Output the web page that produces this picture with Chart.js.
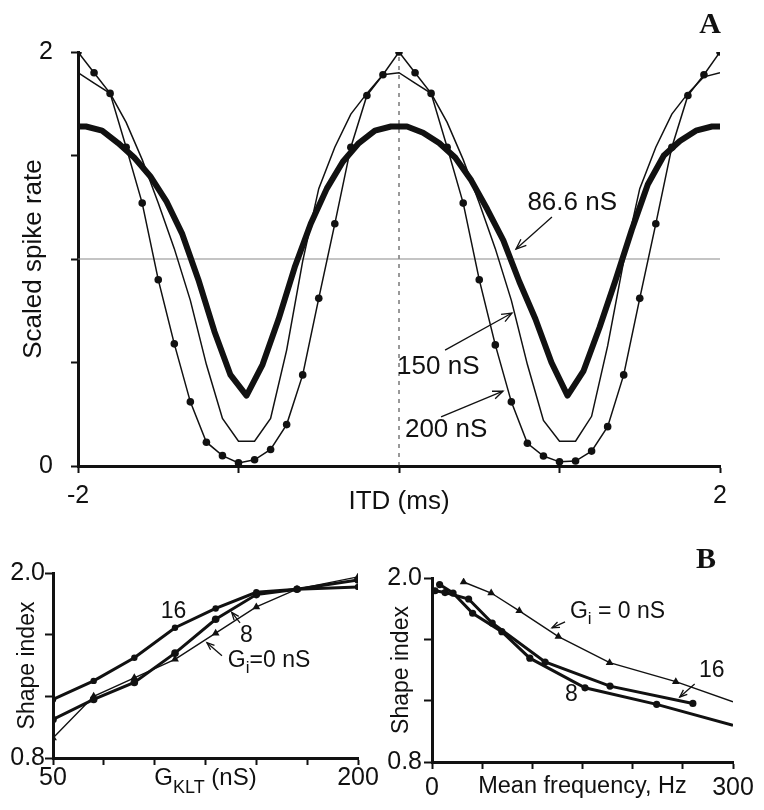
<!DOCTYPE html>
<html>
<head>
<meta charset="utf-8">
<title>ITD tuning and shape index</title>
<script src="https://cdn.jsdelivr.net/npm/chart.js@4.4.1/dist/chart.umd.min.js"></script>
<style>
  html, body { margin: 0; padding: 0; background: #fff; }
  #fig { position: relative; width: 764px; height: 810px; }
  #fig canvas { position: absolute; }
</style>
</head>
<body>
<div id="fig">
  <canvas id="chart-itd" width="764" height="530" style="left:0;top:0"></canvas>
  <canvas id="chart-gklt" width="382" height="280" style="left:0;top:530px"></canvas>
  <canvas id="chart-freq" width="382" height="280" style="left:382px;top:530px"></canvas>
</div>
<script>
// ---- Panel A: scaled spike rate vs ITD ----
const itdMs = [-2.0, -1.9, -1.8, -1.7, -1.6, -1.5, -1.4, -1.3, -1.2, -1.1, -1.0,
  -0.9, -0.8, -0.7, -0.6, -0.5, -0.4, -0.3, -0.2, -0.1, 0.0,
  0.1, 0.2, 0.3, 0.4, 0.5, 0.6, 0.7, 0.8, 0.9, 1.0,
  1.1, 1.2, 1.3, 1.4, 1.5, 1.6, 1.7, 1.8, 1.9, 2.0];
const rate200nS = [2.00, 1.90, 1.80, 1.54, 1.27, 0.90, 0.59, 0.31, 0.115, 0.05, 0.015,
  0.03, 0.08, 0.20, 0.44, 0.81, 1.17, 1.54, 1.79, 1.89, 2.00,
  1.90, 1.80, 1.54, 1.27, 0.90, 0.585, 0.31, 0.11, 0.048, 0.02,
  0.024, 0.072, 0.19, 0.44, 0.81, 1.17, 1.54, 1.79, 1.89, 2.00];
const rate150nS = [1.90, 1.85, 1.80, 1.66, 1.48, 1.27, 1.05, 0.80, 0.49, 0.23, 0.12,
  0.12, 0.23, 0.56, 0.99, 1.34, 1.54, 1.70, 1.80, 1.89, 1.90,
  1.85, 1.80, 1.66, 1.48, 1.27, 1.05, 0.80, 0.49, 0.22, 0.12,
  0.12, 0.24, 0.58, 0.99, 1.34, 1.54, 1.70, 1.80, 1.88, 1.90];
const itdMsThick = [-2.0, -1.95, -1.85, -1.75, -1.65, -1.55, -1.45, -1.35, -1.25, -1.15, -1.05,
  -0.95, -0.85, -0.75, -0.65, -0.55, -0.45, -0.35, -0.25, -0.15, -0.05,
  0.05, 0.15, 0.25, 0.35, 0.45, 0.55, 0.65, 0.75, 0.85, 0.95,
  1.05, 1.15, 1.25, 1.35, 1.45, 1.55, 1.65, 1.75, 1.85, 1.95, 2.0];
const rate86nS = [1.64, 1.64, 1.62, 1.56, 1.49, 1.40, 1.28, 1.12, 0.90, 0.65, 0.44,
  0.34, 0.49, 0.71, 0.96, 1.17, 1.34, 1.47, 1.56, 1.62, 1.64,
  1.64, 1.61, 1.56, 1.49, 1.38, 1.24, 1.09, 0.89, 0.71, 0.50,
  0.34, 0.46, 0.67, 0.90, 1.14, 1.36, 1.50, 1.57, 1.62, 1.64, 1.64];
const refLevelX = [-2, 2];
const refLevelY = [1, 1];
const centreLineX = [0, 0];
const centreLineY = [0, 2];
const itdTickLabels = [-2, 2];
const rateTickLabels = [0, 2];

// ---- Panel B left: shape index vs G_KLT ----
const gkltNs = [50, 70, 90, 110, 130, 150, 170, 200];
const shapeGi16 = [1.18, 1.30, 1.45, 1.645, 1.77, 1.875, 1.895, 1.91];
const shapeGi8 = [1.05, 1.18, 1.29, 1.48, 1.70, 1.86, 1.895, 1.955];
const shapeGi0 = [0.93, 1.20, 1.32, 1.44, 1.61, 1.78, 1.895, 1.975];
const gkltTickLabels = [50, 200];

// ---- Panel B right: shape index vs mean frequency ----
const freqGi16 = [3, 13, 36.5, 60, 112.7, 177.4, 260];
const shapeFreq16 = [1.917, 1.905, 1.863, 1.706, 1.452, 1.295, 1.182];
const freqGi8 = [7.6, 21, 40.5, 69.6, 97.5, 152.5, 223.9, 300];
const shapeFreq8 = [1.957, 1.902, 1.770, 1.650, 1.477, 1.284, 1.176, 1.04];
const freqGi0 = [31.5, 59, 87, 126, 177, 243, 300];
const shapeFreq0 = [1.974, 1.902, 1.786, 1.618, 1.448, 1.324, 1.193];
const freqTickLabels = [0, 300];
const shapeTickLabels = [0.8, 2.0];

const FONT = "'Liberation Sans', Arial, Helvetica, sans-serif";
const INK = "#111";
Chart.defaults.font.family = FONT;
Chart.defaults.color = INK;

function xy(xs, ys) {
    return xs.map((x, i) => ({ x: x, y: ys[i] }));
}

// show a label only on the listed tick values
function pickLabels(list, fmt) {
    return function(value) {
        return list.some(v => Math.abs(v - value) < 1e-6) ? fmt(value) : "";
    };
}

function drawRichText(ctx, parts, x, y, size, align) {
    const segs = parts.map(p => typeof p === "string"
        ? { text: p, font: `${size}px ${FONT}`, dy: 0 }
        : { text: p.sub, font: `${Math.round(size * 0.75)}px ${FONT}`, dy: size * (p.dy || 0.32) });
    let total = 0;
    segs.forEach(s => { ctx.font = s.font; s.w = ctx.measureText(s.text).width; total += s.w; });
    let cx = align === "center" ? x - total / 2 : x;
    ctx.textAlign = "left";
    ctx.textBaseline = "middle";
    segs.forEach(s => { ctx.font = s.font; ctx.fillText(s.text, cx, y + s.dy); cx += s.w; });
}

function drawArrow(ctx, x1, y1, x2, y2, head) {
    ctx.beginPath();
    ctx.moveTo(x1, y1);
    ctx.lineTo(x2, y2);
    ctx.stroke();
    const ang = Math.atan2(y2 - y1, x2 - x1);
    const spread = 0.38;
    ctx.beginPath();
    ctx.moveTo(x2 - head * Math.cos(ang - spread), y2 - head * Math.sin(ang - spread));
    ctx.lineTo(x2, y2);
    ctx.lineTo(x2 - head * Math.cos(ang + spread), y2 - head * Math.sin(ang + spread));
    ctx.stroke();
}

// Annotation texts, arrows, panel letters and rich axis titles
const notesPlugin = {
    id: "notes",
    afterDatasetsDraw(chart, _args, opts) {
        const { ctx, chartArea } = chart;
        const xs = chart.scales.x;
        const ys = chart.scales.y;
        ctx.save();
        ctx.strokeStyle = INK;
        ctx.fillStyle = INK;
        ctx.lineWidth = 1.3;
        (opts.arrows || []).forEach(a => {
            drawArrow(ctx,
                xs.getPixelForValue(a.from[0]), ys.getPixelForValue(a.from[1]),
                xs.getPixelForValue(a.to[0]), ys.getPixelForValue(a.to[1]),
                opts.head || 10);
        });
        (opts.texts || []).forEach(t => {
            drawRichText(ctx, t.parts, xs.getPixelForValue(t.at[0]), ys.getPixelForValue(t.at[1]), t.size, "left");
        });
        if (opts.xTitle) {
            const cx = (chartArea.left + chartArea.right) / 2;
            drawRichText(ctx, opts.xTitle.parts, cx, chartArea.bottom + opts.xTitle.dy, opts.xTitle.size, "center");
        }
        if (opts.panel) {
            ctx.font = `bold ${opts.panel.size}px 'Liberation Serif', 'Times New Roman', serif`;
            ctx.textAlign = "center";
            ctx.textBaseline = "alphabetic";
            ctx.fillText(opts.panel.text, opts.panel.px[0], opts.panel.px[1]);
        }
        ctx.restore();
    }
};

function axisStyle(tickLength) {
    return {
        border: { display: true, color: INK, width: 3 },
        grid: { display: true, drawOnChartArea: false, drawTicks: true, tickLength: tickLength, tickWidth: 2, tickColor: INK }
    };
}

const baseOptions = {
    responsive: false,
    animation: false,
    devicePixelRatio: 1,
    events: []
};

// Panel A
new Chart(document.getElementById("chart-itd"), {
    type: "line",
    data: {
        datasets: [
            { label: "200 nS", data: xy(itdMs, rate200nS), borderColor: INK, borderWidth: 1.5,
              pointRadius: 3.8, pointBackgroundColor: INK, pointBorderWidth: 0 },
            { label: "150 nS", data: xy(itdMs, rate150nS), borderColor: INK, borderWidth: 1.5, pointRadius: 0 },
            { label: "86.6 nS", data: xy(itdMsThick, rate86nS), borderColor: INK, borderWidth: 6,
              pointRadius: 0, borderJoinStyle: "round", borderCapStyle: "butt" },
            { label: "level", data: xy(refLevelX, refLevelY), borderColor: "#8a8a8a", borderWidth: 1.2, pointRadius: 0 },
            { label: "centre", data: xy(centreLineX, centreLineY), borderColor: "#333", borderWidth: 1,
              borderDash: [4, 5], pointRadius: 0 }
        ]
    },
    options: {
        ...baseOptions,
        layout: { padding: { top: 52, right: 44, left: 0, bottom: 0 } },
        plugins: {
            legend: { display: false },
            tooltip: { enabled: false },
            notes: {
                head: 11,
                texts: [
                    { parts: ["86.6 nS"], at: [0.80, 1.27], size: 26 },
                    { parts: ["150 nS"], at: [-0.012, 0.478], size: 26 },
                    { parts: ["200 nS"], at: [0.037, 0.174], size: 26 }
                ],
                arrows: [
                    { from: [0.953, 1.203], to: [0.729, 1.048] },
                    { from: [0.287, 0.560], to: [0.704, 0.739] },
                    { from: [0.262, 0.237], to: [0.648, 0.362] }
                ],
                panel: { text: "A", px: [710, 33], size: 30 }
            }
        },
        scales: {
            x: {
                type: "linear", min: -2, max: 2,
                afterFit: s => { s.height = 64; },
                ...axisStyle(7),
                ticks: { stepSize: 1, padding: 8, font: { size: 25 }, color: INK, maxRotation: 0, autoSkip: false,
                         callback: pickLabels(itdTickLabels, v => String(v)) },
                title: { display: true, text: "ITD (ms)", font: { size: 26 }, color: INK, padding: { top: 0, bottom: 13 } }
            },
            y: {
                type: "linear", min: 0, max: 2,
                afterFit: s => { s.width = 78; },
                ...axisStyle(7),
                ticks: { stepSize: 0.5, padding: 18, font: { size: 25 }, color: INK,
                         callback: pickLabels(rateTickLabels, v => String(v)) },
                title: { display: true, text: "Scaled spike rate", font: { size: 26 }, color: INK, padding: { top: 18, bottom: 0 } }
            }
        }
    },
    plugins: [notesPlugin]
});

// Panel B, left
new Chart(document.getElementById("chart-gklt"), {
    type: "line",
    data: {
        datasets: [
            { label: "16", data: xy(gkltNs, shapeGi16), borderColor: INK, borderWidth: 3,
              pointRadius: 3.2, pointBackgroundColor: INK, pointBorderWidth: 0 },
            { label: "8", data: xy(gkltNs, shapeGi8), borderColor: INK, borderWidth: 3,
              pointRadius: 3.8, pointBackgroundColor: INK, pointBorderWidth: 0 },
            { label: "Gi=0 nS", data: xy(gkltNs, shapeGi0), borderColor: INK, borderWidth: 1.4,
              pointStyle: "triangle", pointRadius: 4.5, pointBackgroundColor: INK, pointBorderWidth: 0 }
        ]
    },
    options: {
        ...baseOptions,
        layout: { padding: { top: 43, right: 24, left: 0, bottom: 0 } },
        plugins: {
            legend: { display: false },
            tooltip: { enabled: false },
            notes: {
                head: 8,
                texts: [
                    { parts: ["16"], at: [103, 1.749], size: 23 },
                    { parts: ["8"], at: [142, 1.593], size: 23 },
                    { parts: ["G", { sub: "i" }, "=0 nS"], at: [136, 1.431], size: 23 }
                ],
                arrows: [
                    { from: [142, 1.677], to: [137.9, 1.744] },
                    { from: [133.1, 1.463], to: [125.7, 1.548] }
                ],
                xTitle: { parts: ["G", { sub: "KLT", dy: 0.42 }, " (nS)"], dy: 20, size: 24 }
            }
        },
        scales: {
            x: {
                type: "linear", min: 50, max: 200,
                afterFit: s => { s.height = 52; },
                ...axisStyle(7),
                ticks: { stepSize: 25, padding: -2, font: { size: 25 }, color: INK, maxRotation: 0, autoSkip: false,
                         callback: pickLabels(gkltTickLabels, v => String(v)) },
                title: { display: false }
            },
            y: {
                type: "linear", min: 0.8, max: 2.0,
                afterFit: s => { s.width = 53; },
                ...axisStyle(8),
                ticks: { stepSize: 0.2, padding: 0, font: { size: 25 }, color: INK,
                         callback: pickLabels(shapeTickLabels, v => v.toFixed(1)) },
                title: { display: true, text: "Shape index", font: { size: 23 }, color: INK, padding: { top: 14, bottom: 0 } }
            }
        }
    },
    plugins: [notesPlugin]
});

// Panel B, right
new Chart(document.getElementById("chart-freq"), {
    type: "line",
    data: {
        datasets: [
            { label: "16", data: xy(freqGi16, shapeFreq16), borderColor: INK, borderWidth: 3,
              pointRadius: 3.6, pointBackgroundColor: INK, pointBorderWidth: 0 },
            { label: "8", data: xy(freqGi8, shapeFreq8), borderColor: INK, borderWidth: 3,
              pointRadius: [3.6, 3.6, 3.6, 3.6, 3.6, 3.6, 3.6, 0], pointBackgroundColor: INK, pointBorderWidth: 0 },
            { label: "Gi = 0 nS", data: xy(freqGi0, shapeFreq0), borderColor: INK, borderWidth: 1.4,
              pointStyle: "triangle", pointRadius: [4.5, 4.5, 4.5, 4.5, 4.5, 4.5, 0],
              pointBackgroundColor: INK, pointBorderWidth: 0 }
        ]
    },
    options: {
        ...baseOptions,
        layout: { padding: { top: 48, right: 31, left: 0, bottom: 0 } },
        plugins: {
            legend: { display: false },
            tooltip: { enabled: false },
            notes: {
                head: 8,
                texts: [
                    { parts: ["G", { sub: "i" }, " = 0 nS"], at: [137.5, 1.78], size: 23 },
                    { parts: ["16"], at: [266, 1.394], size: 23 },
                    { parts: ["8"], at: [132.6, 1.237], size: 23 }
                ],
                arrows: [
                    { from: [132.6, 1.714], to: [119.6, 1.675] },
                    { from: [261.8, 1.308], to: [246.9, 1.224] }
                ],
                panel: { text: "B", px: [324, 38], size: 30 }
            }
        },
        scales: {
            x: {
                type: "linear", min: 0, max: 300,
                afterFit: s => { s.height = 48; },
                ...axisStyle(7),
                ticks: { stepSize: 50, padding: 4, font: { size: 25 }, color: INK, maxRotation: 0, autoSkip: false,
                         callback: pickLabels(freqTickLabels, v => String(v)) },
                title: { display: true, text: "Mean frequency, Hz", font: { size: 23.5 }, color: INK, padding: { top: 0, bottom: 9 } }
            },
            y: {
                type: "linear", min: 0.8, max: 2.0,
                afterFit: s => { s.width = 50; },
                ...axisStyle(8),
                ticks: { stepSize: 0.2, padding: 2, font: { size: 25 }, color: INK,
                         callback: pickLabels(shapeTickLabels, v => v.toFixed(1)) },
                title: { display: true, text: "Shape index", font: { size: 23 }, color: INK, padding: { top: 6, bottom: 0 } }
            }
        }
    },
    plugins: [notesPlugin]
});
</script>
</body>
</html>
